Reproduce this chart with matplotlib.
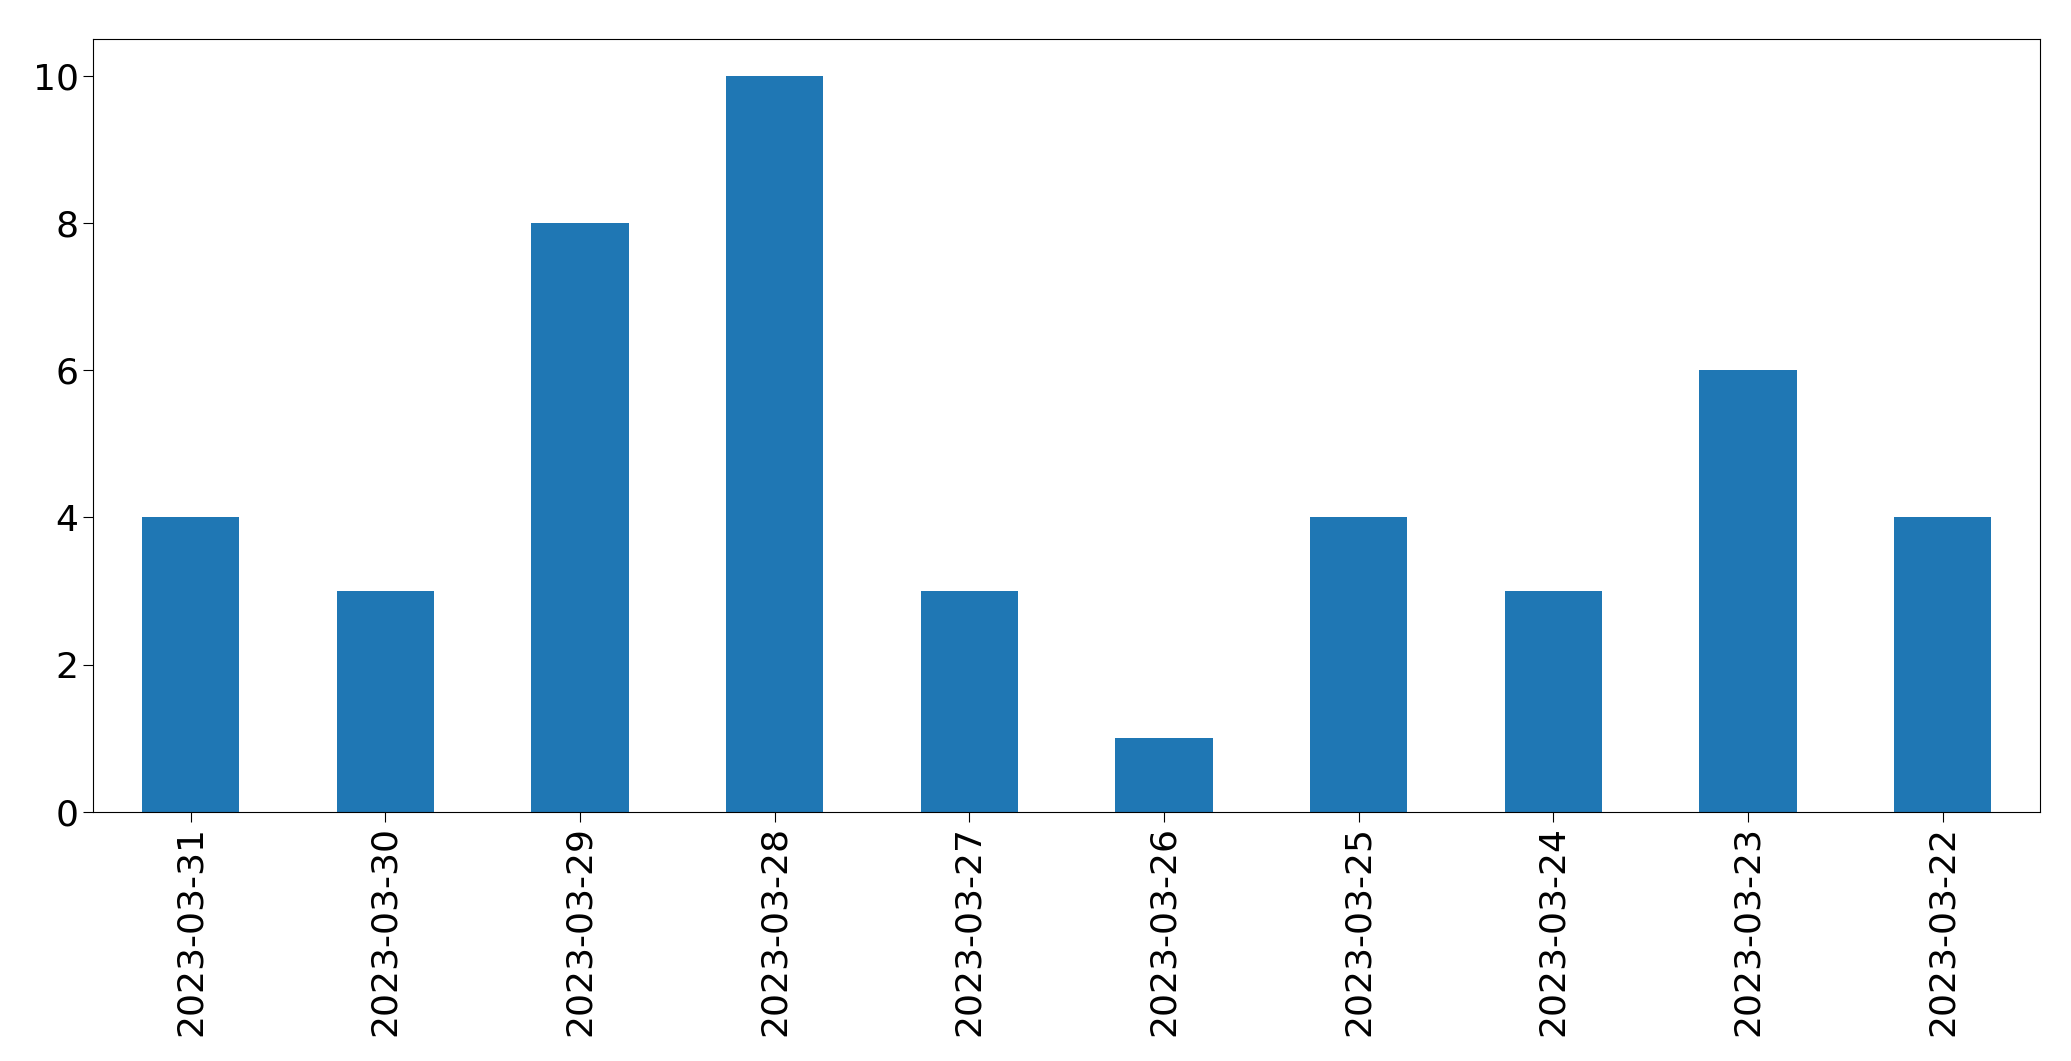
import matplotlib
matplotlib.use("Agg")
import matplotlib.pyplot as plt

dates = ["2023-03-31", "2023-03-30", "2023-03-29", "2023-03-28", "2023-03-27",
         "2023-03-26", "2023-03-25", "2023-03-24", "2023-03-23", "2023-03-22"]
counts = [4, 3, 8, 10, 3, 1, 4, 3, 6, 4]

fig = plt.figure(figsize=(20.71, 10.61), dpi=100)
ax = fig.add_axes([0.045, 0.235, 0.94, 0.728])
x = range(len(dates))
ax.bar(x, counts, width=0.5, color="#1f77b4")
ax.set_xlim(-0.5, len(dates) - 0.5)
ax.set_ylim(0, 10.5)
ax.set_xticks(list(x))
ax.set_xticklabels(dates, rotation=90)
ax.tick_params(labelsize=26, length=7)
fig.savefig("out.png", dpi=100)
